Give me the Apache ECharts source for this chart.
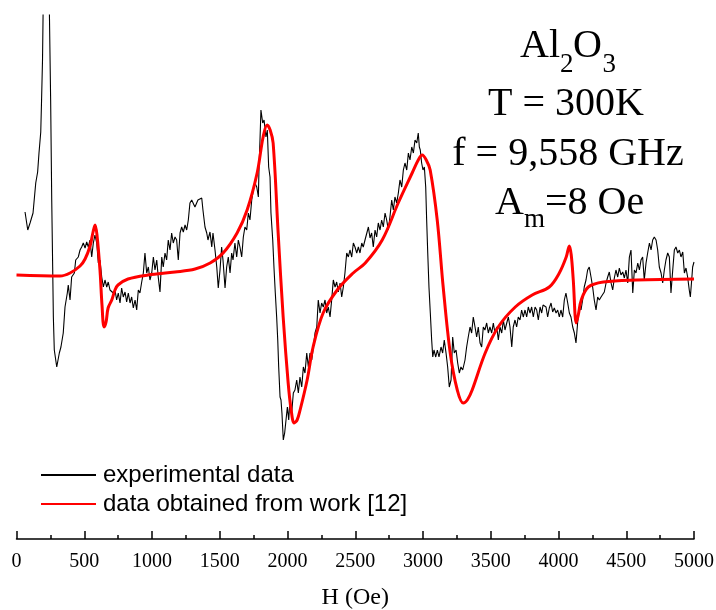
<!DOCTYPE html>
<html lang="en">
<head>
    <meta charset="UTF-8">
    <title>Al2O3 EPR spectrum</title>
    <style>
        html, body { margin: 0; padding: 0; background: #fff; }
        #main { width: 716px; height: 610px; }
    </style>
</head>
<body>
<div id="main"></div>
<script src="https://cdn.jsdelivr.net/npm/echarts@6/dist/echarts.min.js"></script>
<script>
    // 磁场 H (Oe) 与信号 (a.u.)，实验数据
    const expH = [63, 83, 100, 122, 142, 156, 166, 179, 185, 192, 218, 252, 260, 267, 272, 279, 297, 316, 328, 345,
        358, 375, 382, 395, 407, 427, 437, 456, 469, 481, 493, 506, 518, 530, 542, 555, 567, 579, 592, 604,
        616, 629, 641, 653, 666, 677, 690, 703, 714, 727, 739, 751, 764, 776, 788, 801, 813, 825, 838, 850,
        862, 875, 887, 899, 911, 924, 936, 948, 961, 973, 985, 998, 1010, 1022, 1035, 1046, 1059, 1072, 1083, 1096,
        1108, 1120, 1133, 1145, 1157, 1170, 1182, 1194, 1207, 1219, 1231, 1244, 1256, 1268, 1280, 1293, 1317, 1339, 1367, 1376,
        1391, 1404, 1413, 1428, 1441, 1450, 1465, 1478, 1489, 1502, 1514, 1524, 1539, 1551, 1563, 1576, 1588, 1598, 1612, 1625,
        1637, 1649, 1662, 1674, 1686, 1699, 1711, 1723, 1736, 1748, 1760, 1773, 1785, 1790, 1797, 1804, 1817, 1827, 1841, 1851,
        1861, 1871, 1878, 1891, 1900, 1910, 1920, 1928, 1935, 1945, 1952, 1959, 1969, 1979, 1989, 1999, 2009, 2018, 2031, 2043,
        2055, 2068, 2080, 2092, 2105, 2117, 2129, 2142, 2154, 2166, 2179, 2191, 2203, 2216, 2227, 2240, 2252, 2264, 2277, 2289,
        2301, 2314, 2326, 2338, 2351, 2363, 2375, 2388, 2400, 2412, 2424, 2437, 2449, 2461, 2474, 2486, 2498, 2511, 2523, 2535,
        2548, 2559, 2572, 2585, 2597, 2609, 2621, 2633, 2646, 2658, 2670, 2683, 2695, 2707, 2720, 2732, 2744, 2756, 2769, 2781,
        2793, 2806, 2818, 2830, 2843, 2855, 2867, 2880, 2892, 2904, 2917, 2929, 2941, 2954, 2965, 2973, 2980, 2990, 3000, 3010,
        3020, 3027, 3035, 3044, 3054, 3064, 3072, 3081, 3094, 3106, 3118, 3133, 3145, 3157, 3170, 3182, 3194, 3207, 3219, 3231,
        3244, 3256, 3268, 3280, 3293, 3310, 3322, 3334, 3347, 3359, 3371, 3384, 3396, 3408, 3421, 3433, 3445, 3457, 3470, 3482,
        3494, 3507, 3519, 3531, 3544, 3556, 3568, 3581, 3593, 3605, 3618, 3630, 3642, 3655, 3666, 3679, 3691, 3703, 3716, 3728,
        3740, 3753, 3765, 3777, 3790, 3802, 3814, 3827, 3839, 3851, 3864, 3876, 3886, 3895, 3908, 3920, 3932, 3945, 3957, 3969,
        3982, 3994, 4006, 4018, 4031, 4043, 4055, 4068, 4080, 4092, 4105, 4117, 4129, 4141, 4154, 4166, 4178, 4190, 4203, 4215,
        4227, 4240, 4252, 4264, 4277, 4289, 4301, 4314, 4326, 4338, 4351, 4363, 4375, 4388, 4400, 4412, 4424, 4437, 4449, 4461,
        4474, 4486, 4498, 4511, 4523, 4535, 4548, 4560, 4572, 4585, 4597, 4609, 4621, 4633, 4646, 4658, 4671, 4683, 4695, 4707,
        4720, 4732, 4744, 4757, 4769, 4781, 4793, 4806, 4818, 4830, 4843, 4855, 4867, 4880, 4892, 4904, 4917, 4929, 4941, 4953,
        4965, 4973, 4983, 4990, 5000];
    const expSignal = [65, 47, 54, 64, 94, 105, 124, 145, 177, 217, 500, 177, 77, 10, -40, -73, -90, -76, -70, -56,
        -30, -16, -8, -23, 0, 4, 17, 20, 27, 30, 34, 29, 35, 30, 37, 20, 34, 42, 34, 14,
        17, 0, -10, -3, -10, -5, -13, -11, -16, -13, -23, -16, -26, -11, -20, -15, -25, -16, -26, -20,
        -31, -23, -33, -13, -16, -5, 4, 24, 4, 10, -3, 4, 20, 7, 17, 0, -15, 20, 10, 24,
        17, 37, 27, 44, 34, 40, 37, 17, 44, 50, 45, 52, 47, 57, 74, 77, 70, 77, 79, 67,
        50, 44, 37, 45, 30, 44, 27, 10, -11, 7, 30, 17, -11, 10, 20, 4, 24, 17, 34, 20,
        37, 30, 20, 40, 50, 47, 64, 57, 77, 87, 94, 90, 80, 110, 137, 167, 154, 157, 140, 147,
        110, 100, 64, 37, 10, -16, -40, -63, -90, -120, -123, -136, -163, -156, -143, -130, -143, -123, -136, -116,
        -113, -103, -116, -100, -110, -90, -96, -76, -90, -76, -83, -70, -56, -50, -23, -36, -26, -30, -23, -36,
        -30, -40, -23, -3, -10, -5, -15, -6, -20, -10, 4, 24, 20, 27, 20, 34, 30, 24, 30, 24,
        34, 30, 37, 37, 50, 39, 44, 30, 47, 40, 54, 47, 57, 50, 64, 57, 47, 60, 77, 67,
        80, 74, 84, 97, 90, 107, 114, 107, 124, 117, 130, 124, 137, 134, 144, 130, 127, 114, 107, 110,
        90, 57, 24, -10, -36, -63, -80, -73, -80, -73, -80, -70, -76, -63, -76, -90, -110, -103, -60, -76,
        -73, -86, -96, -90, -93, -83, -70, -60, -50, -56, -40, -50, -60, -50, -66, -70, -50, -53, -46, -56,
        -50, -56, -46, -56, -50, -63, -50, -56, -43, -53, -46, -40, -50, -70, -50, -43, -50, -40, -43, -33,
        -40, -33, -40, -30, -36, -30, -40, -30, -33, -43, -30, -36, -28, -26, -30, -40, -31, -26, -35, -31,
        -36, -33, -40, -33, -40, -23, -16, -26, -36, -40, -50, -56, -66, -46, -30, -33, -23, -10, -3, 7,
        10, 0, -10, -23, -33, -20, -23, -20, -21, -15, -6, 0, 5, -6, -13, -1, 7, 0, 9, 2,
        5, -1, 7, -6, 20, 27, -16, 7, 4, 14, 7, 17, 20, -3, 14, 24, 34, 27, 37, 40,
        37, 27, 10, 4, -6, 7, 17, 24, 20, -16, 7, 27, 30, 24, 27, 20, 25, 4, 9, 0,
        -13, -20, -3, 10, 15];

    // 文献 [12] 的计算曲线
    const fitH = [0, 321, 395, 469, 506, 543, 565, 580, 594, 616, 631, 646, 661, 676, 703, 727, 749, 823, 971, 1170,
        1318, 1429, 1525, 1628, 1702, 1776, 1820, 1850, 1872, 1894, 1931, 1968, 2005, 2027, 2049, 2071, 2093, 2145, 2189, 2263,
        2367, 2485, 2574, 2699, 2817, 2920, 2965, 2994, 3024, 3053, 3105, 3149, 3201, 3253, 3297, 3327, 3363, 3459, 3555, 3681,
        3806, 3932, 4006, 4057, 4080, 4094, 4109, 4131, 4146, 4168, 4220, 4331, 4575, 5000];
    const fitSignal = [2, 1, 4, 11, 18, 31, 45, 52, 42, 7, -28, -50, -45, -31, -23, -13, -8, -2, 2, 5,
        8, 14, 24, 44, 67, 104, 140, 152, 147, 134, 44, -40, -106, -133, -146, -143, -133, -103, -70, -36,
        -13, 4, 14, 37, 74, 104, 117, 122, 117, 107, 57, -10, -76, -113, -126, -123, -113, -76, -50, -30,
        -18, -10, 4, 20, 31, 22, -3, -46, -38, -23, -10, -5, -3, -2];

    const xTicks = [0, 500, 1000, 1500, 2000, 2500, 3000, 3500, 4000, 4500, 5000];

    const expData = expH.map((h, i) => [h, expSignal[i]]);
    const fitData = fitH.map((h, i) => [h, fitSignal[i]]);

    const serif = '"Liberation Serif", "Times New Roman", serif';
    const sans = '"Liberation Sans", Arial, sans-serif';

    let myChart = echarts.init(document.getElementById('main'));

    // 右上角的说明文字
    function label(text, x, y, size, align) {
        return {
            type: 'text', x: x, y: y, silent: true,
            style: {
                text: text, fill: '#000', font: size + 'px ' + serif,
                textAlign: align, align: align,
                textVerticalAlign: 'middle', verticalAlign: 'middle'
            }
        };
    }

    let option = {
        animation: false,
        backgroundColor: '#fff',
        grid: {left: 16.5, right: 22, top: 15, bottom: 71, outerBoundsMode: 'none', containLabel: false},
        legend: {
            orient: 'vertical',
            left: 35,
            top: 458,
            itemWidth: 55,
            itemHeight: 14,
            itemGap: 5,
            itemStyle: {opacity: 0},
            textStyle: {color: '#000', fontFamily: sans, fontSize: 24, padding: [0, 0, 0, 2]},
            data: ['experimental data', 'data obtained from work [12]']
        },
        xAxis: {
            type: 'value',
            min: 0,
            max: 5000,
            interval: 500,
            name: 'H (Oe)',
            nameLocation: 'middle',
            nameGap: 47,
            nameTextStyle: {color: '#000', fontFamily: serif, fontSize: 24},
            axisLine: {show: true, onZero: false, lineStyle: {color: '#000', width: 1.5}},
            axisTick: {show: true, inside: true, length: 8, lineStyle: {color: '#000', width: 1.5}},
            minorTick: {show: true, splitNumber: 2, length: 4, lineStyle: {color: '#000', width: 1.5}},
            axisLabel: {
                color: '#000', fontFamily: serif, fontSize: 20, margin: 13,
                formatter: v => xTicks.includes(v) ? String(v) : ''
            },
            splitLine: {show: false}
        },
        yAxis: {
            type: 'value',
            min: -262,
            max: 262,
            show: false,
            splitLine: {show: false}
        },
        series: [
            {
                name: 'experimental data',
                type: 'line',
                data: expData,
                showSymbol: false,
                symbol: 'none',
                clip: true,
                lineStyle: {color: '#000', width: 1.1},
                itemStyle: {color: '#000'},
                z: 2
            },
            {
                name: 'data obtained from work [12]',
                type: 'line',
                data: fitData,
                showSymbol: false,
                symbol: 'none',
                smooth: 0.35,
                clip: true,
                lineStyle: {color: '#ff0000', width: 3},
                itemStyle: {color: '#ff0000'},
                z: 3
            }
        ],
        graphic: [
            label('Al', 520, 46, 40, 'left'),
            label('2', 560, 65, 27, 'left'),
            label('O', 573, 46, 40, 'left'),
            label('3', 602.5, 65, 27, 'left'),
            label('T = 300K', 566, 104, 40, 'center'),
            label('f = 9,558 GHz', 568, 154, 40, 'center'),
            label('A', 495, 203, 40, 'left'),
            label('m', 524, 220, 27, 'left'),
            label('=8 Oe', 545, 203, 40, 'left')
        ]
    };

    myChart.setOption(option);
</script>
</body>
</html>
